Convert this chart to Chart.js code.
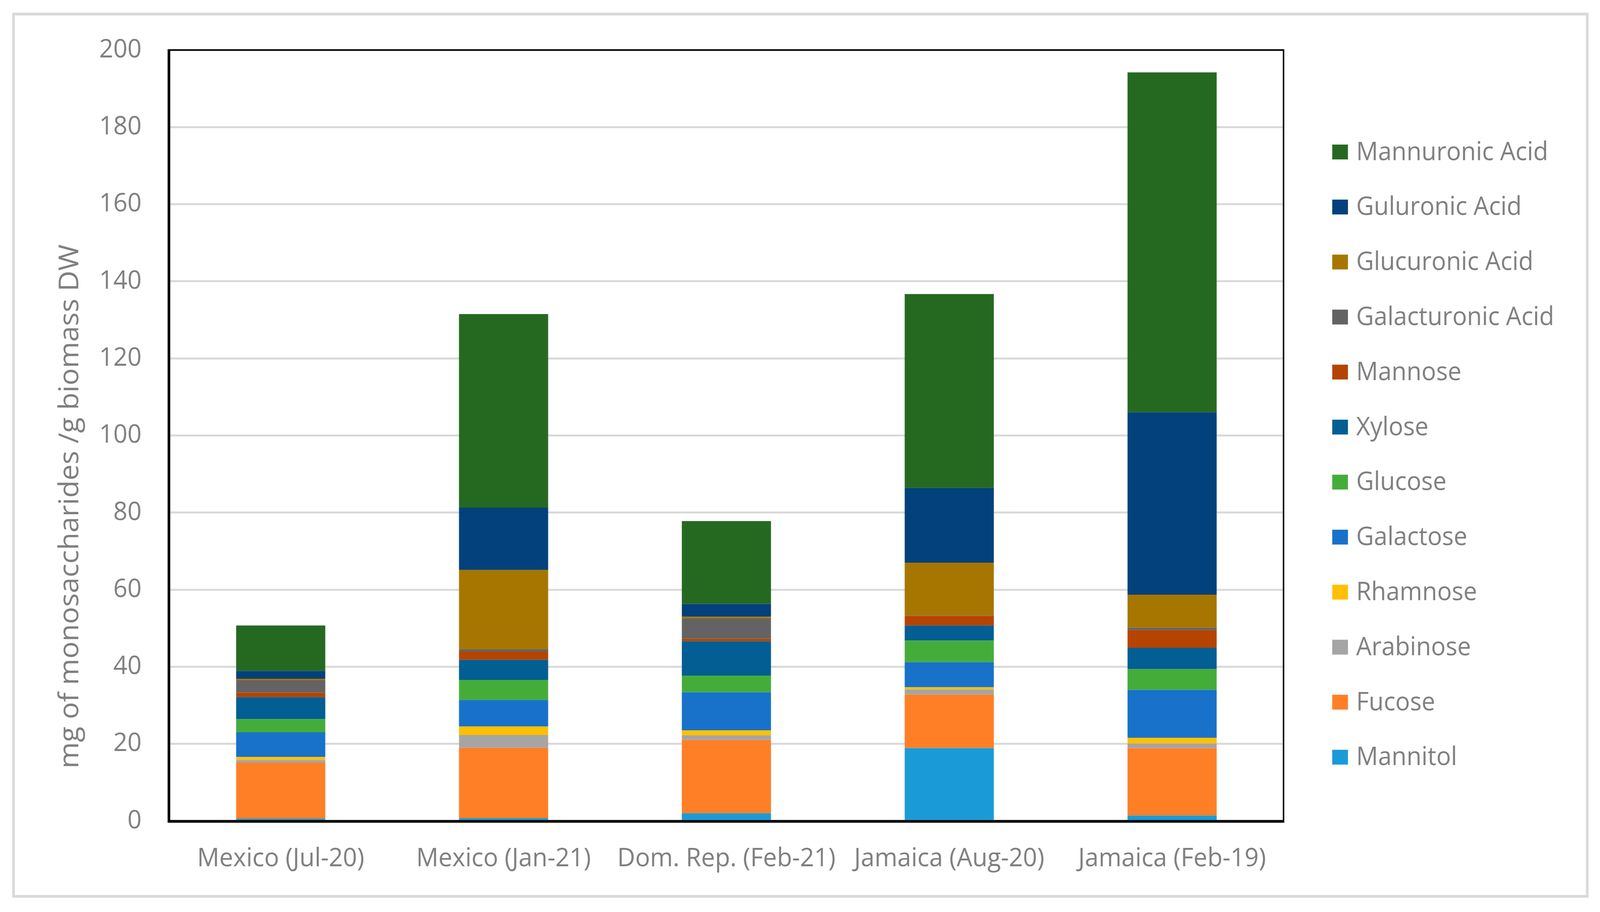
<!DOCTYPE html>
<html lang="en">
<head>
  <meta charset="UTF-8" />
  <title>Monosaccharide composition</title>
  <script src="https://cdn.jsdelivr.net/npm/chart.js"></script>
  <style>
    * { margin: 0; padding: 0; box-sizing: border-box; }
    html, body { background: white; overflow: hidden; width: 100%; height: 100%; }
    canvas { display: block; }
  </style>
</head>
<body>
  <canvas id="chart" width="4272" height="2334" style="width:100vw;height:100vh"></canvas>

  <script>
    // categories and stacked values (mg / g biomass DW), bottom to top
    const categories = ['Mexico (Jul-20)', 'Mexico (Jan-21)', 'Dom. Rep. (Feb-21)', 'Jamaica (Aug-20)', 'Jamaica (Feb-19)'];
    const mannitol     = [0.6, 0.7, 2.0, 18.9, 1.4];
    const fucose       = [14.5, 18.3, 19.0, 13.9, 17.5];
    const arabinose    = [0.7, 3.3, 1.2, 1.3, 1.2];
    const rhamnose     = [0.8, 2.2, 1.3, 0.6, 1.5];
    const galactose    = [6.4, 6.9, 9.9, 6.5, 12.4];
    const glucose      = [3.4, 5.2, 4.3, 5.6, 5.4];
    const xylose       = [5.7, 5.2, 8.9, 3.9, 5.5];
    const mannose      = [1.2, 2.1, 0.7, 2.5, 4.6];
    const galacturonic = [3.2, 0.6, 5.2, 0.1, 0.6];
    const glucuronic   = [0.4, 20.6, 0.5, 13.7, 8.6];
    const guluronic    = [2.0, 16.2, 3.3, 19.4, 47.3];
    const mannuronic   = [11.8, 50.2, 21.5, 50.3, 88.2];

    const seriesNames = ['Mannitol', 'Fucose', 'Arabinose', 'Rhamnose', 'Galactose', 'Glucose',
      'Xylose', 'Mannose', 'Galacturonic Acid', 'Glucuronic Acid', 'Guluronic Acid', 'Mannuronic Acid'];
    const seriesValues = [mannitol, fucose, arabinose, rhamnose, galactose, glucose,
      xylose, mannose, galacturonic, glucuronic, guluronic, mannuronic];
    const seriesColors = ['#1A9BD7', '#FF7F27', '#A5A5A5', '#FFC000', '#1872C9', '#44AD3A',
      '#025E93', '#B44400', '#636363', '#A67600', '#02417B', '#256921'];

    const yTicks = { min: 0, max: 200, step: 20 };
    const yTitle = 'mg of monosaccharides /g biomass DW';

    const textGrey = '#7f7f7f';
    const fontFamily = "'Open Sans', sans-serif";

    // plot box in canvas pixels
    const plot = { left: 452, top: 128, right: 3427, bottom: 2101 };

    const decorations = {
      id: 'decorations',
      beforeDraw(chart) {
        const ctx = chart.ctx;
        ctx.save();
        ctx.fillStyle = 'white';
        ctx.fillRect(0, 0, chart.width, chart.height);
        ctx.strokeStyle = '#D9D9D9';
        ctx.lineWidth = 7;
        ctx.strokeRect(36, 36, 4202, 2258);
        ctx.restore();
      },
      afterDatasetsDraw(chart) {
        const ctx = chart.ctx;
        const a = chart.chartArea;
        ctx.save();
        ctx.strokeStyle = 'black';
        ctx.lineWidth = 4;
        ctx.strokeRect(a.left, a.top, a.right - a.left, a.bottom - a.top);
        ctx.lineWidth = 7;
        ctx.beginPath();
        ctx.moveTo(a.left - 1, a.top - 2);
        ctx.lineTo(a.left - 1, a.bottom + 1);
        ctx.lineTo(a.right + 2, a.bottom + 1);
        ctx.stroke();
        ctx.restore();
      },
      afterDraw(chart) {
        const ctx = chart.ctx;
        ctx.save();
        // y axis title
        ctx.fillStyle = textGrey;
        ctx.font = '73px ' + fontFamily;
        ctx.textAlign = 'center';
        ctx.textBaseline = 'middle';
        ctx.translate(188, 1296);
        ctx.rotate(-Math.PI / 2);
        ctx.fillText(yTitle, 0, 0);
        ctx.restore();

        // legend, top item = last dataset
        ctx.save();
        ctx.font = '65px ' + fontFamily;
        ctx.textBaseline = 'middle';
        ctx.textAlign = 'left';
        const ds = chart.data.datasets;
        for (let i = 0; i < ds.length; i++) {
          const d = ds[ds.length - 1 - i];
          const y = 389 + i * 140.8;
          ctx.fillStyle = d.backgroundColor;
          ctx.fillRect(3557, y - 19, 42, 38);
          ctx.fillStyle = textGrey;
          ctx.fillText(d.label, 3621, y + 2);
        }
        ctx.restore();
      }
    };

    new Chart(document.getElementById('chart'), {
      type: 'bar',
      data: {
        labels: categories,
        datasets: seriesNames.map((name, i) => ({
          label: name,
          data: seriesValues[i],
          backgroundColor: seriesColors[i],
          borderWidth: 0,
          barPercentage: 0.4,
          categoryPercentage: 1
        }))
      },
      options: {
        responsive: false,
        devicePixelRatio: 1,
        animation: false,
        layout: {
          padding: { left: 0, top: plot.top, right: 4272 - plot.right, bottom: 0 }
        },
        plugins: {
          legend: { display: false },
          tooltip: { enabled: false }
        },
        scales: {
          x: {
            stacked: true,
            grid: { display: false, drawTicks: false },
            border: { display: false },
            ticks: {
              color: textGrey,
              font: { family: fontFamily, size: 66 },
              padding: 58,
              maxRotation: 0
            },
            afterFit(scale) { scale.height = 2334 - plot.bottom; }
          },
          y: {
            stacked: true,
            min: yTicks.min,
            max: yTicks.max,
            grid: { color: '#D9D9D9', lineWidth: 5, drawTicks: false },
            border: { display: false },
            ticks: {
              stepSize: yTicks.step,
              color: textGrey,
              font: { family: fontFamily, size: 66 },
              padding: 74
            },
            afterFit(scale) { scale.width = plot.left; }
          }
        }
      },
      plugins: [decorations]
    });
  </script>
</body>
</html>
